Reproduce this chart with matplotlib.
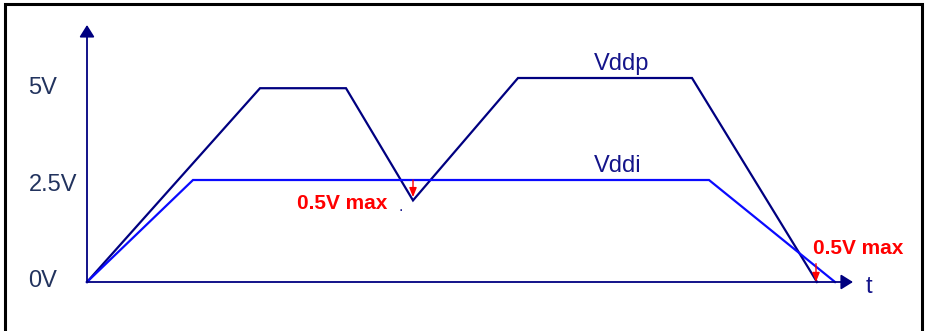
import matplotlib.pyplot as plt
from matplotlib.patches import Rectangle

# Supply sequencing waveform (time in arbitrary units, volts)
vddp_t = [0, 17.3, 25.9, 32.6, 43.1, 60.5, 73.0]
vddp_v = [0, 4.75, 4.75, 2.0, 5.0, 5.0, 0]
vddi_t = [0, 10.6, 62.2, 74.8]
vddi_v = [0, 2.5, 2.5, 0]

tick_labels = ['5V', '2.5V', '0V']
tick_baseline = [4.61, 2.23, -0.12]

# red "0.5V max" markers: time, start level, end level
delta_t = [32.6, 72.9]
delta_top = [2.5, 0.45]
delta_bot = [2.08, 0.0]

navy = '#000080'
blue = '#0a0aff'
label_col = '#22335e'
sans = ['Liberation Sans', 'DejaVu Sans']

fig = plt.figure(figsize=(9.26, 3.31), dpi=100)
ax = fig.add_axes([0, 0, 1, 1])
ax.set_xlim(-8.7, 83.9)
ax.set_ylim(-1.201, 6.912)
ax.axis('off')

# frame round the picture
fig.patches.append(Rectangle((5 / 926, -0.1), 917 / 926, 1 - 4 / 331 + 0.1,
                             transform=fig.transFigure, fill=False,
                             edgecolor='black', linewidth=2.2))

# axes with arrows
arrow_style = '-|>,head_length=0.4,head_width=0.25'
ax.annotate('', xy=(0, 6.30), xytext=(0, 0),
            arrowprops=dict(arrowstyle=arrow_style, mutation_scale=18,
                            color=navy, lw=1.3, shrinkA=0, shrinkB=0))
ax.annotate('', xy=(76.6, 0), xytext=(0, 0),
            arrowprops=dict(arrowstyle=arrow_style, mutation_scale=18,
                            color=navy, lw=1.3, shrinkA=0, shrinkB=0))

# waveforms
ax.plot(vddp_t, vddp_v, color=navy, lw=1.6, solid_joinstyle='miter')
ax.plot(vddi_t, vddi_v, color=blue, lw=1.6, solid_joinstyle='miter')

# y labels
for y, lab in zip(tick_baseline, tick_labels):
    ax.text(-5.85, y, lab, ha='left', va='baseline',
            fontsize=17, color=label_col, family=sans)

ax.text(53.5, 5.20, 'Vddp', ha='center', va='baseline', fontsize=17,
        color='#14148a', family=sans)
ax.text(53.1, 2.70, 'Vddi', ha='center', va='baseline', fontsize=17,
        color='#14148a', family=sans)
ax.text(78.2, -0.27, 't', ha='center', va='baseline', fontsize=17,
        color='#14148a', family=sans)

# red markers
for t, a, b in zip(delta_t, delta_top, delta_bot):
    ax.annotate('', xy=(t, b), xytext=(t, a),
                arrowprops=dict(arrowstyle='-|>,head_length=0.5,head_width=0.2',
                                mutation_scale=11, color='red', lw=1.0,
                                shrinkA=0, shrinkB=0))
ax.text(21.0, 1.79, '0.5V max', ha='left', va='baseline', fontsize=15,
        fontweight='bold', color='red', family=sans)
ax.text(72.6, 0.69, '0.5V max', ha='left', va='baseline', fontsize=15,
        fontweight='bold', color='red', family=sans)
ax.text(31.4, 1.85, '.', ha='center', va='center', fontsize=10, color=navy)

fig.savefig('out.png', dpi=100)
